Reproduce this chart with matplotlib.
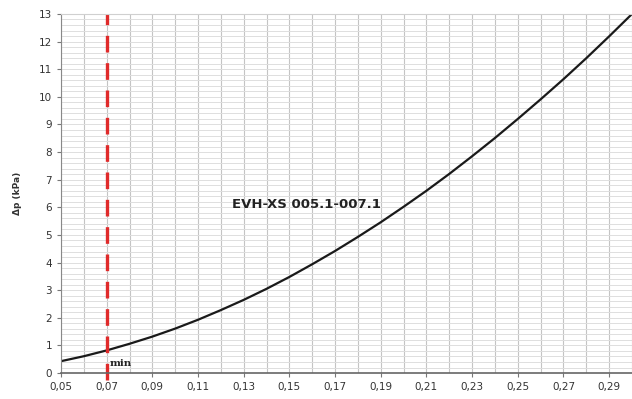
import numpy as np
import matplotlib
matplotlib.use("Agg")
from matplotlib import pyplot as plt
from matplotlib.ticker import MultipleLocator, FixedLocator, FuncFormatter

# flow (x) vs pressure drop (kPa)
flow = [0.05, 0.06, 0.07, 0.08, 0.09, 0.10, 0.11, 0.12, 0.13, 0.14, 0.15,
        0.16, 0.17, 0.18, 0.19, 0.20, 0.21, 0.22, 0.23, 0.24, 0.25, 0.26,
        0.27, 0.28, 0.29, 0.30]
dp = [0.43, 0.61, 0.82, 1.06, 1.32, 1.61, 1.93, 2.28, 2.65, 3.05, 3.48,
      3.94, 4.42, 4.93, 5.46, 6.02, 6.60, 7.21, 7.85, 8.51, 9.20, 9.91,
      10.64, 11.40, 12.19, 13.0]
x_ticks = [0.05, 0.07, 0.09, 0.11, 0.13, 0.15, 0.17, 0.19, 0.21, 0.23,
           0.25, 0.27, 0.29]
min_flow = 0.07
curve_name = "EVH-XS 005.1-007.1"

fig = plt.figure(figsize=(6.32, 3.99), dpi=100)
ax = fig.add_axes([0.0965, 0.065, 0.9035, 0.9])

ax.set_xlim(0.05, 0.30)
ax.set_ylim(0, 13)

# grid
ax.xaxis.set_major_locator(FixedLocator(x_ticks))
ax.xaxis.set_minor_locator(MultipleLocator(0.01))
ax.yaxis.set_major_locator(MultipleLocator(1))
ax.yaxis.set_minor_locator(MultipleLocator(0.2))
ax.grid(which="both", axis="x", color="#c4c4c4", lw=0.8)
ax.grid(which="both", axis="y", color="#dedede", lw=0.7)
ax.set_axisbelow(True)

ax.xaxis.set_major_formatter(FuncFormatter(lambda v, p: ("%.2f" % v).replace(".", ",")))
ax.tick_params(which="minor", length=0)
ax.tick_params(which="major", length=3, width=0.8, color="#777777",
               labelsize=7.5, labelcolor="#333333")

ax.spines["right"].set_visible(False)
ax.spines["top"].set_color("#d0d0d0")
ax.spines["left"].set_color("#888888")
ax.spines["bottom"].set_color("#666666")
ax.spines["bottom"].set_linewidth(1.2)

ax.plot(flow, dp, color="#1a1a1a", lw=1.6)
ax.axvline(min_flow, ymin=-0.02, ymax=1, color="#e02a2a", lw=2.4,
           dashes=(5, 3.2), clip_on=False)

ax.text(0.0715, 0.18, "min", fontsize=7.5, fontweight="bold",
        family="DejaVu Serif", color="#222222", va="bottom", ha="left")
ax.text(0.1574, 6.09, curve_name, fontsize=9.5, fontweight="bold",
        color="#222222", ha="center", va="center")

ax.set_ylabel("Δp (kPa)", fontsize=6.5, fontweight="bold", color="#333333",
              labelpad=12)

fig.savefig("out.png", dpi=100)
